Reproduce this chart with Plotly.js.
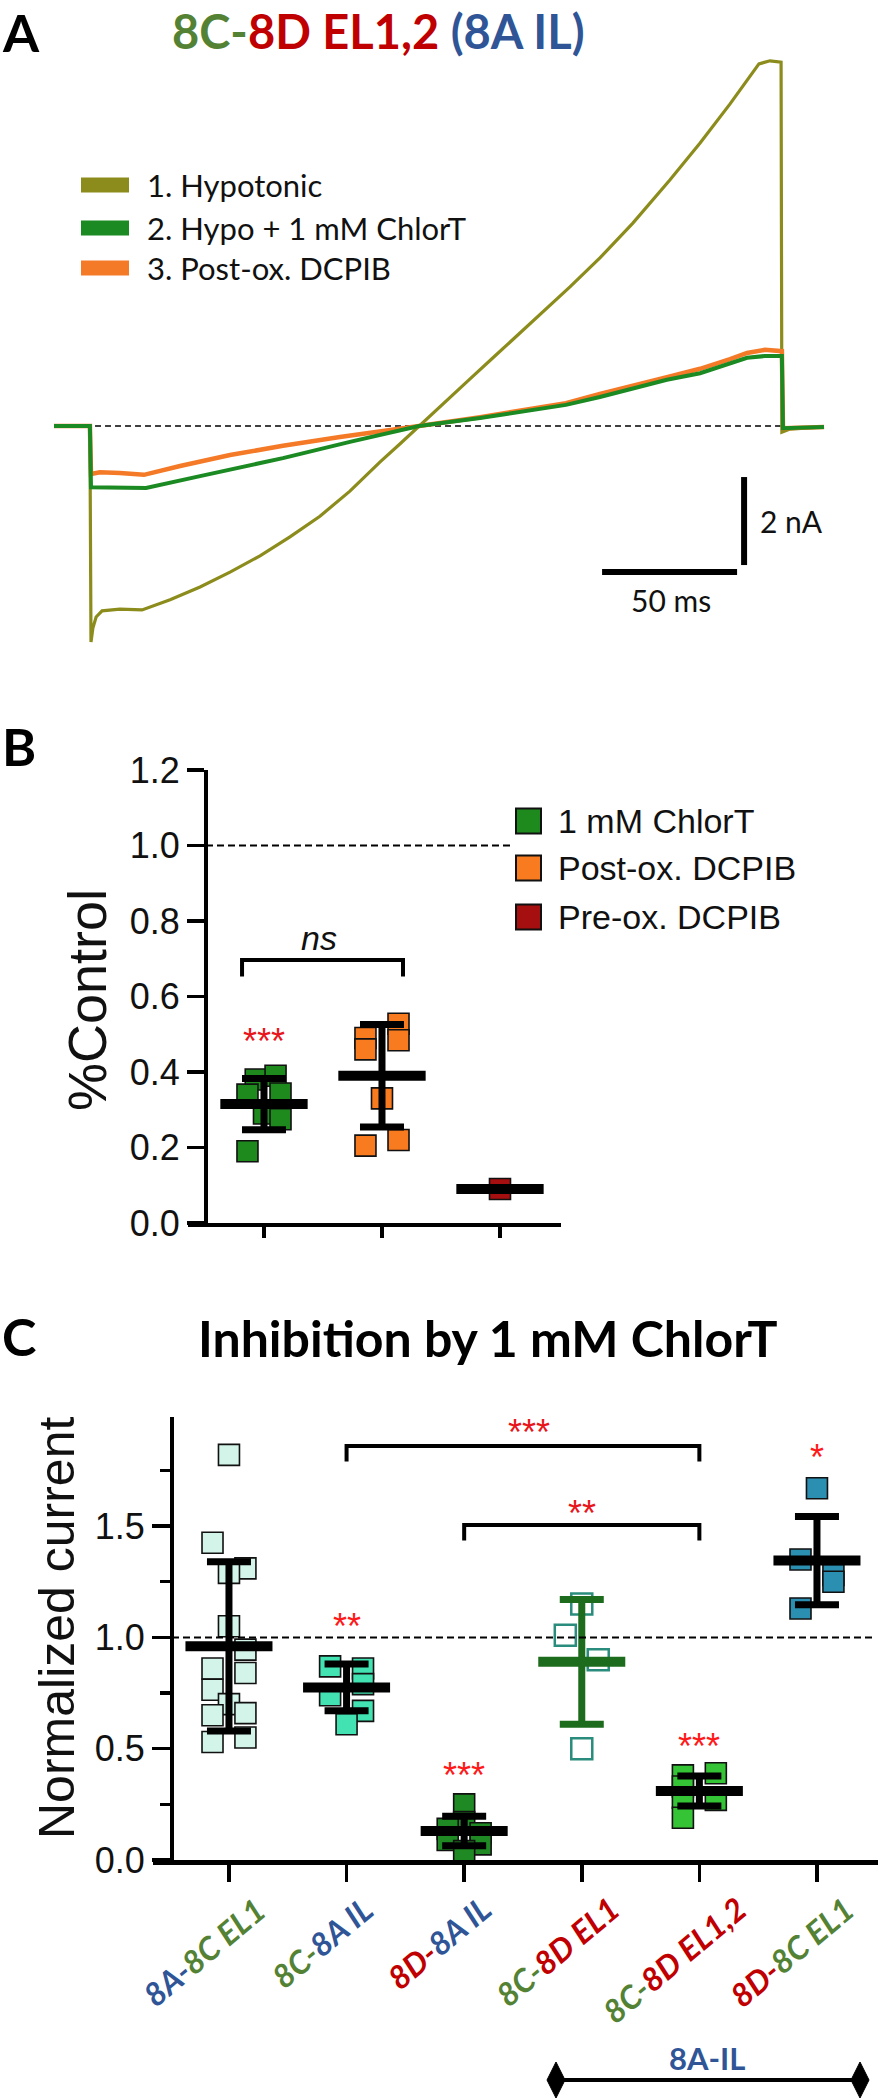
<!DOCTYPE html>
<html><head><meta charset="utf-8">
<script src="https://cdn.plot.ly/plotly-3.0.1.min.js"></script>
<style>html,body{margin:0;padding:0;background:#fff}#chart{width:888px;height:2100px}</style>
</head><body><div id="chart"></div>
<script>
// ================= DATA =================
// Panel A: whole-cell current traces (time in ms, current in nA)
const hypoT = [0,13.3,13.7,14.4,15.6,17.8,24.4,32.6,43.0,54.1,65.2,76.3,87.4,98.5,109.6,120.7,128.1,135.2,144.8,154.1,163.3,172.6,181.9,191.1,202.2,214.4,228.1,239.3,250.4,261.1,265.2,269.3,269.6,272.6,285.2];
const hypoI = [0,0,-4.91,-4.59,-4.34,-4.20,-4.16,-4.18,-3.95,-3.66,-3.32,-2.95,-2.52,-2.05,-1.48,-0.82,-0.41,0,0.55,1.07,1.59,2.11,2.64,3.16,3.82,4.61,5.59,6.43,7.32,8.23,8.30,8.27,-0.14,-0.07,-0.02];
const chlorT_T = [0,13.3,13.7,17.0,24.4,34.1,54.1,84.8,109.6,135.2,157.8,189.6,202.2,227.0,239.3,250.4,256.7,263.3,269.6,270.0,285.2];
const chlorT_I = [0,0,-1.39,-1.39,-1.41,-1.41,-1.14,-0.73,-0.36,0,0.18,0.48,0.66,1.05,1.20,1.43,1.55,1.59,1.59,-0.05,-0.02];
const postT = [0,13.3,13.7,17.0,24.4,33.3,46.7,65.2,84.8,105.9,135.2,157.8,189.6,202.2,227.0,239.3,250.4,256.7,263.3,269.6,270.0,285.2];
const postI = [0,0,-1.09,-1.05,-1.07,-1.11,-0.91,-0.66,-0.45,-0.25,0,0.20,0.52,0.73,1.11,1.30,1.52,1.66,1.73,1.70,-0.05,-0.02];
const traceNamesA = ['1. Hypotonic','2. Hypo + 1 mM ChlorT','3. Post-ox. DCPIB'];
const baselineSpan = [15.2, 270.7];   // ms
const scaleMs = 50, scaleNa = 2;

// Panel B: %Control
const catsB = ['1 mM ChlorT','Post-ox. DCPIB','Pre-ox. DCPIB'];
const b1Vals = [0.19,0.38,0.39,0.34,0.343,0.29,0.275];
const b1Cols = [-1,-0.5,0.7,-1,1,0,1];
const b2Vals = [0.528,0.49,0.484,0.46,0.33,0.22,0.205];
const b2Cols = [1,-1,1,-1,0,1,-1];
const b3Vals = [0.09];
const b3Cols = [0];
const meanB = [0.315,0.39,0.09];
const sdB = [0.068,0.136,0];
const yTicksB = [0,0.2,0.4,0.6,0.8,1.0,1.2];

// Panel C: normalized current
const catsC = ['8A-8C EL1','8C-8A IL','8D-8A IL','8C-8D EL1','8C-8D EL1,2','8D-8C EL1'];
const c1Vals = [1.82,1.425,1.31,1.29,1.05,0.945,0.86,0.84,0.765,0.70,0.65,0.66,0.53,0.55];
const c1Cols = [0,-1,1,0,0,1,-1,1,-1,0,-1,1,-1,1];
const c2Vals = [0.87,0.86,0.79,0.74,0.67,0.61];
const c2Cols = [-1,1,1,-1,1,0];
const c3Vals = [0.25,0.17,0.14,0.12,0.09,0.07,0.04];
const c3Cols = [0,0,-1,1,-1,1,0];
const c4Vals = [1.15,1.01,0.90,0.50];
const c4Cols = [0,-1,1,0];
const c5Vals = [0.38,0.39,0.33,0.28,0.27,0.19];
const c5Cols = [-1,1,-1,-1,1,-1];
const c6Vals = [1.67,1.35,1.28,1.25,1.13];
const c6Cols = [0,-1,1,1,-1];
const meanC = [0.96,0.775,0.13,0.89,0.31,1.345];
const sdC = [0.38,0.105,0.066,0.28,0.067,0.198];
const sigCIdx = [1,2,4,5];
const sigCLabels = ['**','***','***','*'];
const bracketC = [{from:1,to:4,label:'***'},{from:2,to:4,label:'**'}];
const yTicksC = [0,0.5,1.0,1.5];
const rangeLabel = '8A-IL';

// ================= STYLE / LAYOUT =================
const W = 888, H = 2100;
const P = x => x / W;
const Q = y => 1 - y / H;
const BLUE = '#2f5597', GREEN = '#548235', RED = '#c00000';
const isoColor = {'8A': BLUE, '8C': GREEN, '8D': RED};
const CAL = 'Lato, "Open Sans", sans-serif';
const ARIAL = '"Liberation Sans", Arial, sans-serif';
function colorLabel(s) {
  const i = s.indexOf('-');
  const a = s.slice(0, i + 1), b = s.slice(i + 1);
  return '<span style="color:' + isoColor[a.slice(0,2)] + '">' + a + '</span>' +
         '<span style="color:' + isoColor[b.slice(0,2)] + '">' + b + '</span>';
}

const traces = [];
const annotations = [];
const shapes = [];

// ---- Panel A ----
const colA = ['#8c8c1c', '#1b8a22', '#f47a28'];
traces.push({x: baselineSpan, y: [0,0], xaxis:'x', yaxis:'y', mode:'lines',
  line:{color:'#000', width:1.6, dash:'6px,4px'}});
traces.push({x: hypoT, y: hypoI, xaxis:'x', yaxis:'y', mode:'lines', line:{color:colA[0], width:3.2}, name:traceNamesA[0]});
traces.push({x: postT, y: postI, xaxis:'x', yaxis:'y', mode:'lines', line:{color:colA[2], width:4.5}, name:traceNamesA[2]});
traces.push({x: chlorT_T, y: chlorT_I, xaxis:'x', yaxis:'y', mode:'lines', line:{color:colA[1], width:4}, name:traceNamesA[1]});
// scale bars
const sbT = 253, sbI = -3.32;
traces.push({x:[sbT - scaleMs, sbT], y:[sbI, sbI], xaxis:'x', yaxis:'y', mode:'lines', line:{color:'#000', width:6}});
traces.push({x:[sbT + 2.6, sbT + 2.6], y:[sbI + 0.16, sbI + 0.16 + scaleNa], xaxis:'x', yaxis:'y', mode:'lines', line:{color:'#000', width:6}});

// legend A
const legAY = [185, 228, 268];
traceNamesA.forEach((nm, i) => {
  shapes.push({type:'rect', xref:'paper', yref:'paper', x0:P(81), x1:P(129), y0:Q(legAY[i]-7.5), y1:Q(legAY[i]+7.5),
    fillcolor: colA[i], line:{width:0}});
  annotations.push({text: nm, xref:'paper', yref:'paper', x:P(145), y:Q(legAY[i]), xanchor:'left', yanchor:'middle',
    showarrow:false, font:{family:CAL, size:31, color:'#111'}});
});
annotations.push({text:'A', xref:'paper', yref:'paper', x:0, y:Q(32), xanchor:'left', yanchor:'middle', showarrow:false,
  font:{family:CAL, size:52, color:'#000', weight:'bold'}});
annotations.push({text: '<span style="color:'+GREEN+'">8C-</span><span style="color:'+RED+'">8D EL1,2</span> <span style="color:'+BLUE+'">(8A IL)</span>',
  xref:'paper', yref:'paper', x:P(378), y:Q(31), xanchor:'center', yanchor:'middle', showarrow:false,
  font:{family:CAL, size:47, weight:'bold'}});
annotations.push({text: scaleNa + ' nA', xref:'paper', yref:'paper', x:P(758), y:Q(521), xanchor:'left', yanchor:'middle', showarrow:false,
  font:{family:CAL, size:30, color:'#111'}});
annotations.push({text: scaleMs + ' ms', xref:'paper', yref:'paper', x:P(671), y:Q(600), xanchor:'center', yanchor:'middle', showarrow:false,
  font:{family:CAL, size:30, color:'#111'}});

// ---- generic dot plot helpers ----
const COL = 0.14, MEANHW = 0.37;
function dots(xa, ya, ci, vals, cols, color, open) {
  return {x: vals.map((v,i) => ci + cols[i]*COL), y: vals, xaxis:xa, yaxis:ya, mode:'markers', cliponaxis:false,
    marker:{symbol: open ? 'square-open' : 'square', size: 21, color: color,
      line:{color: open ? color : '#111', width: open ? 2.5 : 1.6}}};
}
function meanSd(xa, ya, ci, m, sd, color) {
  const out = [];
  if (sd > 0) out.push({x:[ci], y:[m], xaxis:xa, yaxis:ya, mode:'markers', cliponaxis:false,
    marker:{size:1, color:'rgba(0,0,0,0)'},
    error_y:{type:'data', array:[sd], visible:true, color:color, thickness:7, width:22}});
  out.push({x:[ci - MEANHW, ci + MEANHW], y:[m, m], xaxis:xa, yaxis:ya, mode:'lines', cliponaxis:false,
    line:{color:color, width:10}});
  return out;
}

// ---- Panel B ----
const colB = ['#1e8a1e', '#f97b1f', '#a50f0f'];
const bVals = [b1Vals, b2Vals, b3Vals], bCols = [b1Cols, b2Cols, b3Cols];
bVals.forEach((v, i) => traces.push(dots('x2','y2', i, v, bCols[i], colB[i], false)));
meanB.forEach((m, i) => meanSd('x2','y2', i, m, sdB[i], '#000').forEach(t => traces.push(t)));
// ns bracket
traces.push({x:[-0.186,-0.186,1.178,1.178], y:[0.653,0.697,0.697,0.653], xaxis:'x2', yaxis:'y2', mode:'lines',
  line:{color:'#000', width:4}});
annotations.push({text:'<i>ns</i>', xref:'x2', yref:'y2', x:0.47, y:0.755, showarrow:false, xanchor:'center', yanchor:'middle',
  font:{family:ARIAL, size:34, color:'#111'}});
annotations.push({text:'***', xref:'x2', yref:'y2', x:0, y:0.48, showarrow:false, xanchor:'center', yanchor:'middle',
  font:{family:ARIAL, size:36, color:'#e8161b'}});
shapes.push({type:'line', xref:'paper', yref:'y2', x0:P(206), x1:P(512), y0:1, y1:1, line:{color:'#000', width:2, dash:'7px,4px'}});
// legend B
const legBY = [821, 868, 917];
catsB.forEach((nm, i) => {
  shapes.push({type:'rect', xref:'paper', yref:'paper', x0:P(516), x1:P(541), y0:Q(legBY[i]+12.5), y1:Q(legBY[i]-12.5),
    fillcolor: colB[i], line:{color:'#111', width:2}});
  annotations.push({text:nm, xref:'paper', yref:'paper', x:P(556), y:Q(legBY[i]), xanchor:'left', yanchor:'middle', showarrow:false,
    font:{family:ARIAL, size:34, color:'#111'}});
});
annotations.push({text:'B', xref:'paper', yref:'paper', x:0, y:Q(746), xanchor:'left', yanchor:'middle', showarrow:false,
  font:{family:CAL, size:52, color:'#000', weight:'bold'}});
annotations.push({text:'%Control', xref:'paper', yref:'paper', x:P(87), y:Q(1000), xanchor:'center', yanchor:'middle', textangle:-90,
  showarrow:false, font:{family:ARIAL, size:54, color:'#111'}});

// ---- Panel C ----
const colC = ['#d2f4e9', '#42e2b2', '#1f8a23', '#2a8c7c', '#35c435', '#2a8fb0'];
const cVals = [c1Vals, c2Vals, c3Vals, c4Vals, c5Vals, c6Vals];
const cCols = [c1Cols, c2Cols, c3Cols, c4Cols, c5Cols, c6Cols];
cVals.forEach((v, i) => traces.push(dots('x3','y3', i, v, cCols[i], colC[i], i === 3)));
meanC.forEach((m, i) => meanSd('x3','y3', i, m, sdC[i], i === 3 ? '#1d6b1d' : '#000').forEach(t => traces.push(t)));
// significance marks above groups
const sigY = [1.05, 0.38, 0.51, 1.81];
sigCIdx.forEach((ci, k) => {
  annotations.push({text:sigCLabels[k], xref:'x3', yref:'y3', x:ci, y:sigY[k], showarrow:false, xanchor:'center', yanchor:'middle',
    font:{family:ARIAL, size:36, color:'#ff1a1a'}});
});
// brackets
const brY = [1.86, 1.505], brDrop = 0.07, brLabX = [2.55, 3.0], brLabY = [1.92, 1.555];
bracketC.forEach((b, k) => {
  traces.push({x:[b.from, b.from, b.to, b.to], y:[brY[k]-brDrop, brY[k], brY[k], brY[k]-brDrop], xaxis:'x3', yaxis:'y3',
    mode:'lines', cliponaxis:false, line:{color:'#000', width:4}});
  annotations.push({text:b.label, xref:'x3', yref:'y3', x:brLabX[k], y:brLabY[k], showarrow:false, xanchor:'center', yanchor:'middle',
    font:{family:ARIAL, size:36, color:'#e8161b'}});
});
shapes.push({type:'line', xref:'paper', yref:'y3', x0:P(172), x1:P(872), y0:1, y1:1, line:{color:'#000', width:2, dash:'7px,4px'}});
// rotated category labels
catsC.forEach((c, i) => {
  annotations.push({text: colorLabel(c), xref:'x3', yref:'paper', x:i, xshift:-25, y:Q(1886), xanchor:'center', yanchor:'top',
    textangle:-40, showarrow:false, font:{family:CAL, size:32, weight:'bold', style:'italic'}});
});
annotations.push({text:'C', xref:'paper', yref:'paper', x:0, y:Q(1336), xanchor:'left', yanchor:'middle', showarrow:false,
  font:{family:CAL, size:52, color:'#000', weight:'bold'}});
annotations.push({text:'Inhibition by 1 mM ChlorT', xref:'paper', yref:'paper', x:P(488), y:Q(1338), xanchor:'center', yanchor:'middle',
  showarrow:false, font:{family:CAL, size:50, color:'#000', weight:'bold'}});
annotations.push({text:'Normalized current', xref:'paper', yref:'paper', x:P(57), y:Q(1628), xanchor:'center', yanchor:'middle', textangle:-90,
  showarrow:false, font:{family:ARIAL, size:50, color:'#111'}});
// 8A-IL range arrow
annotations.push({text:rangeLabel, xref:'paper', yref:'paper', x:P(707), y:Q(2058), xanchor:'center', yanchor:'middle', showarrow:false,
  font:{family:CAL, size:31, color:BLUE, weight:'bold'}});
shapes.push({type:'line', xref:'paper', yref:'paper', x0:P(556), x1:P(860), y0:Q(2080), y1:Q(2080), line:{color:'#000', width:4}});
[556, 860].forEach(cx => {
  shapes.push({type:'path', xref:'paper', yref:'paper', fillcolor:'#000', line:{color:'#000', width:1},
    path:'M'+P(cx-9)+','+Q(2080)+' L'+P(cx)+','+Q(2062)+' L'+P(cx+9)+','+Q(2080)+' L'+P(cx)+','+Q(2098)+' Z'});
});

const axBase = {showgrid:false, zeroline:false, fixedrange:true};
const layout = {
  width: W, height: H, margin:{l:0, r:0, t:0, b:0}, paper_bgcolor:'#fff', plot_bgcolor:'rgba(0,0,0,0)',
  showlegend:false, hovermode:false,
  xaxis: Object.assign({}, axBase, {domain:[0,1], range:[-20, 308.9], visible:false}),
  yaxis: Object.assign({}, axBase, {domain:[Q(880),1], range:[(426-880)/44, 426/44], visible:false}),
  xaxis2: Object.assign({}, axBase, {domain:[P(188), P(561)], range:[-0.644, 2.517], anchor:'y2',
    tickmode:'array', tickvals:[0,1,2], showticklabels:false, ticks:'outside', ticklen:11, tickwidth:3.5, tickcolor:'#000',
    showline:true, linewidth:4, linecolor:'#000'}),
  yaxis2: Object.assign({}, axBase, {domain:[Q(1223), Q(770)], range:[0,1.2], anchor:'free', position:P(206),
    tickmode:'array', tickvals:yTicksB, ticktext:yTicksB.map(v => v.toFixed(1)), ticks:'outside', ticklen:17, tickwidth:3.5, tickcolor:'#000',
    showline:true, linewidth:4, linecolor:'#000', tickfont:{family:ARIAL, size:36, color:'#111'}}),
  xaxis3: Object.assign({}, axBase, {domain:[P(153), P(878)], range:[-0.646, 5.519], anchor:'y3',
    tickmode:'array', tickvals:catsC.map((c,i) => i), showticklabels:false,
    ticks:'outside', ticklen:17, tickwidth:3.5, tickcolor:'#000', showline:true, linewidth:4.5, linecolor:'#000'}),
  yaxis3: Object.assign({}, axBase, {domain:[Q(1860), Q(1417)], range:[0,1.99], anchor:'free', position:P(172),
    tickmode:'array', tickvals:yTicksC, ticktext:yTicksC.map(v => v.toFixed(1)), ticks:'outside', ticklen:18, tickwidth:3.5, tickcolor:'#000',
    minor:{tickmode:'array', tickvals:[0.25,0.75,1.25,1.75], ticks:'outside', ticklen:10, tickwidth:3.5, tickcolor:'#000'},
    showline:true, linewidth:4, linecolor:'#000', tickfont:{family:ARIAL, size:36, color:'#111'}}),
  annotations: annotations,
  shapes: shapes
};
Plotly.newPlot('chart', traces, layout, {staticPlot:true, displayModeBar:false});
</script>
</body></html>
